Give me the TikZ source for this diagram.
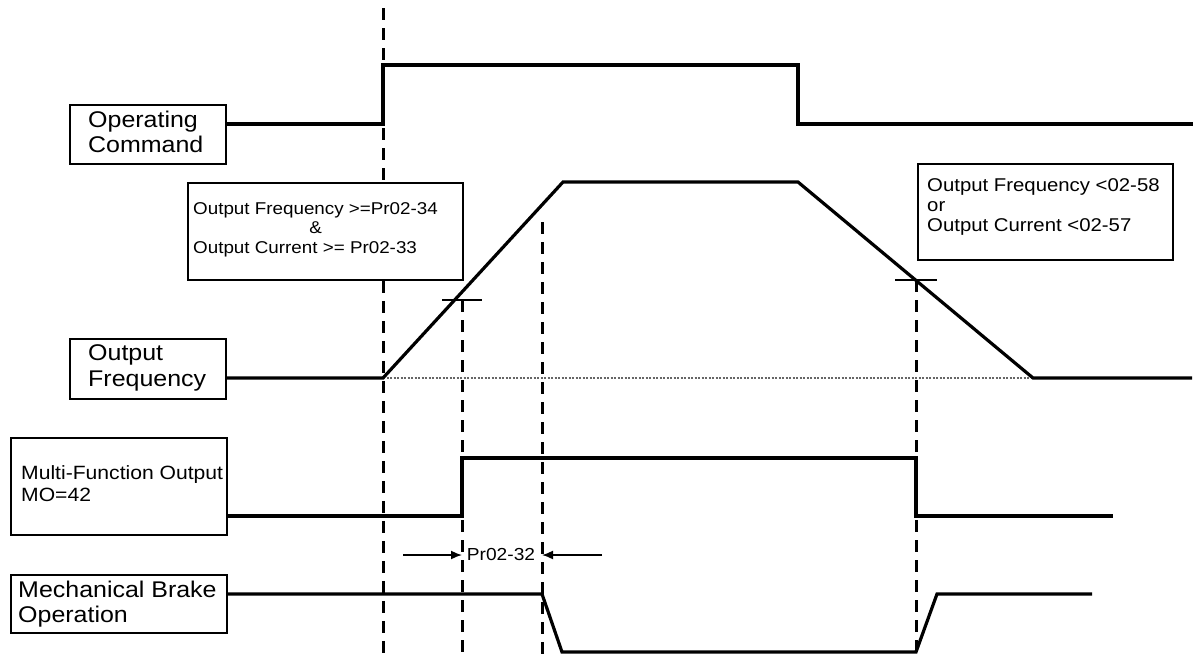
\documentclass[tikz,border=0pt]{standalone}
\usepackage{fontspec}
\setmainfont{Liberation Sans}[FakeStretch=1.1]
\usetikzlibrary{arrows.meta,calc}
\newcommand\lblfont{\fontsize{22.7}{25.5}\selectfont}
\newcommand\mfofont{\fontsize{19.2}{22}\selectfont}
\newcommand\lcondfont{\fontsize{17.1}{19.5}\selectfont}
\newcommand\rcondfont{\fontsize{18.5}{20}\selectfont}
\newcommand\dimfont{\fontsize{17.4}{20}\selectfont}
\begin{document}
\begin{tikzpicture}[x=1pt,y=-1pt,
  sig/.style={line width=3.2pt, line join=miter},
  vdash/.style={line width=3pt, dash pattern=on 12pt off 8pt},
  lblbox/.style={draw, fill=white, line width=1.8pt, anchor=north west, inner sep=0pt},
  txt/.style={anchor=west, inner sep=0pt, align=left},
  tickmark/.style={line width=1.6pt},
  dots/.style={line width=2.4pt, black!60, dash pattern=on 2pt off 1.5pt},
  dimarrow/.style={line width=1.6pt, -{Latex[length=11pt,width=9pt]}},
]
\useasboundingbox (0,0) rectangle (1203,654);

% label boxes
\node[lblbox, minimum width=156, minimum height=59] (opbox) at (69,104) {};
\node[lblbox, minimum width=156, minimum height=60] (frqbox) at (69,338) {};
\node[lblbox, minimum width=216, minimum height=97] (mfobox) at (10,437) {};
\node[lblbox, minimum width=216, minimum height=58] (brkbox) at (10,574) {};
\node[lblbox, minimum width=275, minimum height=97] (lcond) at (187,182) {};
\node[lblbox, minimum width=255, minimum height=96] (rcond) at (917,163) {};

% texts
\node[txt, font=\lblfont] (optxt) at (88,132) {Operating\\Command};
\node[txt, font=\lblfont] (frqtxt) at (88,368) {Output\\Frequency};
\node[txt, font=\mfofont] (mfotxt) at (21,484) {Multi-Function Output\\MO=42};
\node[txt, font=\lblfont] (brktxt) at (18,604) {Mechanical Brake\\Operation};
\node[txt, font=\lcondfont] (lcondtxt) at (193,230) {\begin{tabular}{@{}l@{}}Output Frequency >=Pr02-34\\ \multicolumn{1}{@{}c@{}}{\&}\\ Output Current >= Pr02-33\end{tabular}};
\node[txt, font=\rcondfont] (rcondtxt) at (927,207) {Output Frequency <02-58\\or\\Output Current <02-57};

% coordinates
\coordinate (d1top) at (383,8);
\coordinate (d1bot) at (383,654);
\coordinate (d2top) at (462,300);
\coordinate (d2bot) at (462,654);
\coordinate (d3top) at (542,222);
\coordinate (d3bot) at (542,654);
\coordinate (d4top) at (916,280);
\coordinate (d4bot) at (916,654);

% vertical dashed lines
\draw[vdash] (d1top) -- (d1top |- lcond.north);
\draw[vdash] (d1top |- lcond.south) -- (d1bot);
\draw[vdash] (d2top) -- (d2bot);
\draw[vdash] (d3top) -- (d3bot);
\draw[vdash] (d4top) -- (d4bot);

% dotted zero line
\coordinate (zl) at (383,378);
\coordinate (zr) at (1033,378);
\draw[dots] (zl) -- (zr);

% signals
\draw[sig] (opbox.east |- 0,124) -- (383,124) -- (383,65) -- (798,65) -- (798,124) -- (1193,124);
\draw[sig] (frqbox.east |- 0,378) -- (zl) -- (563,182) -- (798,182) -- (zr) -- (1192,378);
\draw[sig] (mfobox.east |- 0,516) -- (462,516) -- (462,458) -- (916,458) -- (916,516) -- (1113,516);
\draw[sig] (brkbox.east |- 0,594) -- (542,594) -- (562,652) -- (916,652) -- (937,594) -- (1092,594);

% tick marks
\coordinate (t1a) at (442,300);
\coordinate (t1b) at (482,300);
\coordinate (t2a) at (895,280);
\coordinate (t2b) at (937,280);
\draw[tickmark] (t1a) -- (t1b);
\draw[tickmark] (t2a) -- (t2b);

% Pr02-32 dimension
\coordinate (la) at (403,555);
\coordinate (lb) at (462,555);
\coordinate (ra) at (602,555);
\coordinate (rb) at (542,555);
\draw[dimarrow] (la) -- (lb);
\draw[dimarrow] (ra) -- (rb);
\node[font=\dimfont, inner sep=0pt] (prlbl) at (501,555) {Pr02-32};
\end{tikzpicture}
\end{document}
